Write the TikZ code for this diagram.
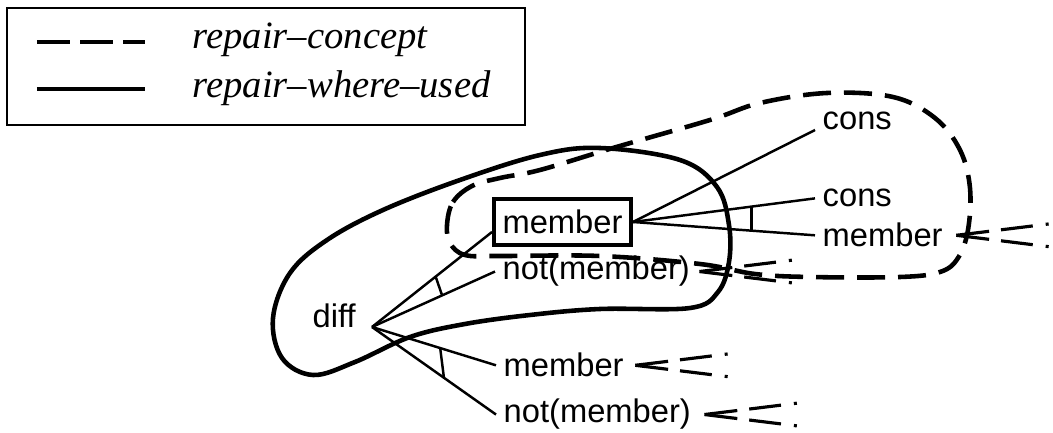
\documentclass[tikz,border=0pt]{standalone}
\usepackage{fontspec}
\setmainfont{Liberation Serif}
\setsansfont{Liberation Sans}
\usetikzlibrary{positioning}

\tikzset{
  lbl/.style={font=\sffamily\fontsize{9.3}{11}\selectfont, inner sep=2pt, anchor=base west},
  key/.style={font=\itshape\fontsize{11}{13}\selectfont, inner sep=0pt, anchor=base west},
  conceptloop/.style={line width=1.3pt, dash pattern=on 0.28cm off 0.13cm},
  usedloop/.style={line width=1.3pt},
  link/.style={line width=0.7pt},
  trail/.style={line width=0.9pt, dash pattern=on 0.33cm off 0.12cm on 0.32cm off 0.13cm on 0.03cm off 1cm},
}

\begin{document}
\begin{tikzpicture}
\useasboundingbox (0,0) rectangle (10.53,4.33);

% legend
\draw[line width=0.4pt] (0.07,4.25) rectangle (5.25,3.08);
\draw[conceptloop, dash pattern=on 0.33cm off 0.10cm, line width=1.4pt] (0.37,3.91) -- (1.45,3.91);
\draw[usedloop, line width=1.4pt] (0.37,3.44) -- (1.45,3.44);
\node[key] (keyconcept) at (1.92,3.84) {repair--concept};
\node[key] (keyused) at (1.92,3.35) {repair--where--used};

% the two regions
\draw[usedloop] plot[smooth cycle, tension=0.6] coordinates {
  (2.73,1.15) (2.90,1.60) (3.27,1.93) (3.83,2.23) (4.60,2.53) (5.40,2.78)
  (6.00,2.85) (6.80,2.73) (7.17,2.46) (7.29,2.08) (7.29,1.71) (7.18,1.41)
  (6.90,1.25) (6.00,1.24) (5.30,1.18) (4.65,1.09) (4.10,0.96) (3.55,0.71)
  (3.13,0.58) (2.82,0.75)};
\draw[conceptloop] plot[smooth cycle, tension=0.6] coordinates {
  (4.47,2.08) (4.53,2.31) (4.72,2.47) (5.00,2.55) (5.40,2.63) (6.13,2.85)
  (7.10,3.13) (7.60,3.30) (8.27,3.40) (8.93,3.36) (9.35,3.15) (9.60,2.83)
  (9.70,2.45) (9.68,2.03) (9.58,1.75) (9.40,1.61) (9.00,1.56) (8.10,1.56)
  (7.55,1.59) (7.00,1.69) (6.00,1.77) (5.00,1.77) (4.65,1.78) (4.50,1.90)};

% goals
\node[lbl] (diff) at (3.05,1.05) {diff};
\node[draw, line width=1.1pt, minimum width=1.37cm, minimum height=0.46cm, inner sep=0pt,
  font=\sffamily\fontsize{9.3}{11}\selectfont] (mbox) at (5.625,2.11) {member};
\node[lbl] (notmid) at (4.95,1.53) {not(member)};
\node[lbl] (membot) at (4.96,0.56) {member};
\node[lbl] (notbot) at (4.96,0.10) {not(member)};
\node[lbl] (cons1) at (8.15,3.03) {cons};
\node[lbl] (cons2) at (8.15,2.26) {cons};
\node[lbl] (memr) at (8.15,1.86) {member};

\coordinate (hub) at (3.72,1.06);

% clauses
\draw[link] (hub) -- ([yshift=0.15cm]mbox.south west);
\draw[link] (hub) -- (notmid.west);
\draw[link] (hub) -- (membot.west);
\draw[link] (hub) -- (notbot.west);
\draw[link] (mbox.east) -- (cons1.base west);
\draw[link] (mbox.east) -- (cons2.west);
\draw[link] (mbox.east) -- (memr.west);

% conjunction marks
\path (hub) -- ([yshift=0.15cm]mbox.south west) coordinate[pos=0.53] (a1);
\path (hub) -- (notmid.west) coordinate[pos=0.57] (a2);
\path (hub) -- (membot.west) coordinate[pos=0.55] (a3);
\path (hub) -- (notbot.west) coordinate[pos=0.58] (a4);
\path (mbox.east) -- (cons2.west) coordinate[pos=0.65] (a5);
\path (mbox.east) -- (memr.west) coordinate[pos=0.65] (a6);
\draw[link] (a1) -- (a2);
\draw[link] (a3) -- (a4);
\draw[link] (a5) -- (a6);

% open ends
\coordinate[right=0.02cm of notmid] (t1);
\coordinate[right=0.04cm of membot] (t2);
\coordinate[right=0.06cm of notbot] (t3);
\coordinate[right=0.06cm of memr] (t4);
\foreach \p in {t1,t2,t3,t4}{
  \draw[trail] (\p) -- ++(7:0.93);
  \draw[trail] (\p) -- ++(-7:0.93);
}
\end{tikzpicture}
\end{document}
